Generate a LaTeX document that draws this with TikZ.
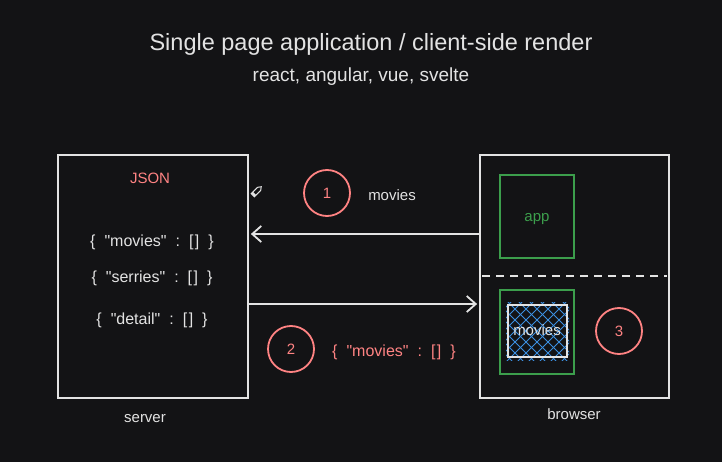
\documentclass[tikz,border=0pt]{standalone}
\usepackage{fontspec}
\setmainfont{Liberation Sans}[Ligatures=TeXOff]
\usetikzlibrary{arrows.meta}
\definecolor{bg}{HTML}{131315}
\definecolor{ink}{HTML}{E3E3E3}
\definecolor{rose}{HTML}{FF8383}
\definecolor{leaf}{HTML}{3C9E4C}
\definecolor{sky}{HTML}{3B8FE0}
\newcommand\jsonkey[1]{\{\hspace{9pt}"#1"\hspace{9pt}:\hspace{9pt}[\hspace{1.5pt}]\hspace{9pt}\}}
\begin{document}
\begin{tikzpicture}[x=1pt,y=-1pt,
  frame/.style={draw=ink,line width=1.8pt},
  greenbox/.style={draw=leaf,line width=1.8pt},
  badge/.style={circle,draw=rose,line width=1.8pt,minimum size=46pt,inner sep=0pt,text=rose,font=\fontsize{15}{15}\selectfont},
  lbl/.style={text=ink,font=\fontsize{15}{15}\selectfont,inner sep=0pt},
  jsonline/.style={text=ink,font=\fontsize{16}{16}\selectfont,inner sep=0pt},
  flow/.style={draw=ink,line width=1.8pt,-{Straight Barb[length=9pt,width=16pt,line width=1.8pt]}}]
  \fill[bg] (0,0) rectangle (722,462);
  \useasboundingbox (0,0) rectangle (722,462);

  % headings
  \node[text=ink,font=\fontsize{23.5}{24}\selectfont] (title) at (371,44) {Single page application / client-side render};
  \node[text=ink,font=\fontsize{19}{19}\selectfont] (sub) at (361,77) {react, angular, vue, svelte};

  % server
  \node[frame,minimum width=190pt,minimum height=243pt,inner sep=0pt] (server) at (153,276.5) {};
  \node[text=rose,font=\fontsize{15}{15}\selectfont] (json) at (150,178) {JSON};
  \node[jsonline] (kmovies) at (152,242) {\jsonkey{movies}};
  \node[jsonline] (kseries) at (152,278) {\jsonkey{serries}};
  \node[jsonline] (kdetail) at (152,320) {\jsonkey{detail}};
  \node[lbl] (slabel) at (145,419) {server};

  % browser
  \node[frame,minimum width=189pt,minimum height=243pt,inner sep=0pt] (browser) at (574.5,276.5) {};
  \coordinate (dashL) at (482,276);
  \coordinate (dashR) at (667,276);
  \draw[ink,line width=1.8pt,dash pattern=on 8pt off 6pt] (dashL) -- (dashR);
  \node[greenbox,minimum width=74pt,minimum height=83pt,inner sep=0pt] (app) at (537,216.5) {};
  \node[text=leaf,font=\fontsize{15}{15}\selectfont] (applbl) at (537,219) {app};
  \node[greenbox,minimum width=74pt,minimum height=84pt,inner sep=0pt] (slot) at (537,332) {};

  % hatched component
  \begin{scope}
    \clip (506,302) rectangle (569,360);
    \foreach \k in {-88,-77,...,88} {
      \draw[sky,line width=1pt] (537+\k-40,331+40) -- (537+\k+40,331-40);
      \draw[sky,line width=1pt] (537+\k-40,331-40) -- (537+\k+40,331+40);
    }
  \end{scope}
  \node[draw=ink,line width=1.8pt,minimum width=59pt,minimum height=52pt,inner sep=0pt] (comp) at (537.5,331) {};
  \node[lbl] (complbl) at (537,330) {movies};

  \node[badge] (three) at (619,331) {3};
  \node[lbl] (blabel) at (574,414) {browser};

  % request / response
  \coordinate (reqS) at (browser.west |- 0,234);
  \coordinate (reqE) at ([xshift=2pt]server.east |- 0,234);
  \draw[flow] (reqS) -- (reqE);
  \coordinate (resS) at (server.east |- 0,304);
  \coordinate (resE) at ([xshift=-2pt]browser.west |- 0,304);
  \draw[flow] (resS) -- (resE);

  \node[badge] (one) at (327,193) {1};
  \node[lbl] (reqlbl) at (392,195) {movies};
  \node[badge] (two) at (291,349) {2};
  \node[text=rose,font=\fontsize{16}{16}\selectfont,inner sep=0pt] (reslbl) at (394,352) {\jsonkey{movies}};

  % pencil pointer
  \begin{scope}[shift={(257,191)},rotate=45]
    \draw[ink,line width=1pt,fill=bg] (-6,-2.2) -- (3,-2.2) -- (6,0) -- (3,2.2) -- (-6,2.2) -- cycle;
    \fill[ink] (-6,-2.2) rectangle (-3.5,2.2);
  \end{scope}
\end{tikzpicture}
\end{document}
